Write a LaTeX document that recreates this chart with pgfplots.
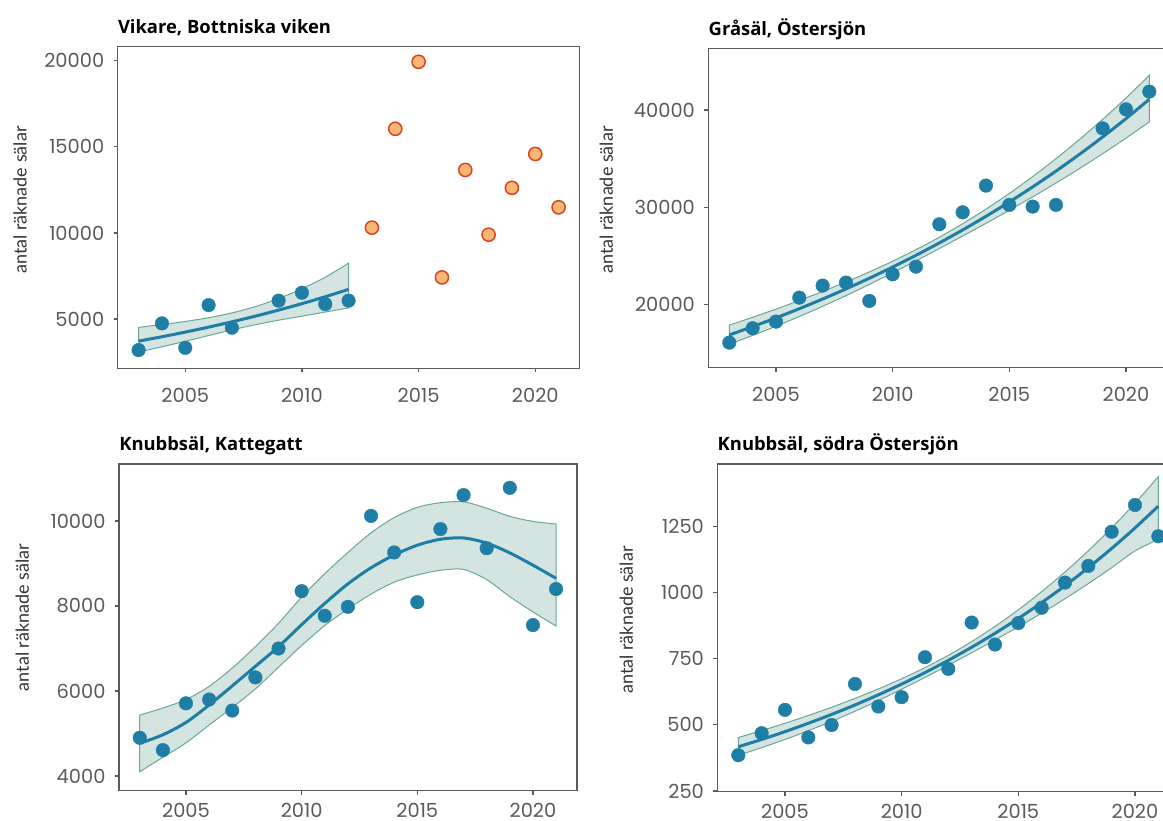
\documentclass[border=0pt]{standalone}
\usepackage{fontspec}
\setmainfont{Lato}
\newfontfamily\tickfont{Poppins}
\newfontfamily\titlefont{Open Sans}
\usepackage{pgfplots}
\pgfplotsset{compat=1.18}
\usepackage{pgfplotstable}
\usepgfplotslibrary{fillbetween}

\definecolor{dotblue}{HTML}{1F7EA6}
\definecolor{bandfill}{HTML}{D4E5E1}
\definecolor{bandedge}{HTML}{6BA698}
\definecolor{orfill}{HTML}{F8B677}
\definecolor{oredge}{HTML}{D8461C}
\definecolor{axgray}{HTML}{5A5A5A}
\definecolor{labgray}{HTML}{333333}

% Vikare, Bottniska viken
\pgfplotstableread{
year n
2003 3200
2004 4750
2005 3330
2006 5810
2007 4500
2009 6070
2010 6530
2011 5870
2012 6070
}\vikpts
\pgfplotstableread{
year n
2013 10310
2014 16050
2015 19940
2016 7420
2017 13660
2018 9900
2019 12620
2020 14590
2021 11490
}\viknew
\pgfplotstableread{
year fit lo hi
2003 3721 3090 4520
2004 3974 3390 4680
2005 4244 3710 4860
2006 4532 4045 5080
2007 4840 4372 5357
2008 5169 4670 5722
2009 5521 4935 6190
2010 5896 5170 6760
2011 6297 5410 7430
2012 6725 5650 8250
}\vikfit

% Gråsäl, Östersjön
\pgfplotstableread{
year n
2003 16060
2004 17540
2005 18220
2006 20690
2007 21930
2008 22240
2009 20350
2010 23090
2011 23880
2012 28240
2013 29470
2014 32220
2015 30230
2016 30060
2017 30230
2019 38110
2020 40070
2021 41890
}\grapts
\pgfplotstableread{
year fit lo hi
2003 16852 15898 17863
2004 17708 16798 18668
2005 18607 17746 19509
2006 19552 18745 20395
2007 20545 19795 21324
2008 21588 20895 22303
2009 22684 22049 23337
2010 23836 23245 24442
2011 25046 24482 25625
2012 26318 25744 26902
2013 27654 27032 28293
2014 29058 28337 29796
2015 30534 29679 31413
2016 32084 31054 33146
2017 33713 32482 34991
2018 35425 33962 36952
2019 37224 35501 39029
2020 39114 37104 41234
2021 41100 38774 43566
}\grafit

% Knubbsäl, Kattegatt
\pgfplotstableread{
year n
2003 4900
2004 4610
2005 5710
2006 5800
2007 5540
2008 6320
2009 7000
2010 8350
2011 7770
2012 7980
2013 10120
2014 9260
2015 8090
2016 9810
2017 10610
2018 9360
2019 10780
2020 7550
2021 8400
}\katpts
\pgfplotstableread{
year fit lo hi
2003 4769 4101 5435
2004 4970 4440 5600
2005 5260 4780 5800
2006 5670 5200 6110
2007 6120 5610 6540
2008 6580 6050 7043
2009 7043 6560 7593
2010 7560 7070 8210
2011 8060 7540 8760
2012 8520 7930 9260
2013 8900 8280 9720
2014 9200 8560 10080
2015 9430 8730 10320
2016 9570 8840 10430
2017 9600 8860 10450
2018 9480 8620 10300
2019 9250 8220 10110
2020 8960 7860 9990
2021 8651 7530 9929
}\katfit

% Knubbsäl, södra Östersjön
\pgfplotstableread{
year n
2003 385
2004 468
2005 556
2006 452
2007 499
2008 654
2009 569
2010 604
2011 755
2012 711
2013 886
2014 803
2015 884
2016 942
2017 1037
2018 1100
2019 1229
2020 1330
2021 1212
}\sodpts
\pgfplotstableread{
year fit lo hi
2003 416.7 384.5 451.6
2004 444.4 413.4 477.8
2005 473.9 444.3 505.5
2006 505.4 477.5 534.9
2007 538.9 513.0 566.1
2008 574.7 551.0 599.5
2009 612.9 591.4 635.2
2010 653.6 634.2 673.7
2011 697.0 678.8 715.7
2012 743.3 724.9 762.1
2013 792.7 772.0 813.9
2014 845.3 820.2 871.3
2015 901.5 869.8 934.2
2016 961.3 921.6 1002.7
2017 1025.2 975.9 1077.0
2018 1093.3 1033.0 1157.2
2019 1165.9 1093.0 1243.5
2020 1243.3 1156.5 1336.7
2021 1325.9 1200.0 1437.0
}\sodfit

\pgfplotsset{
  panel/.style={
    scale only axis, anchor=north west, clip=false,
    xmin=2002.1, xmax=2021.9, xtick={2005,2010,2015,2020},
    scaled y ticks=false, scaled x ticks=false,
    axis line style={axgray, line width=0.75pt},
    tick pos=left, tick align=outside, major tick length=2pt,
    tick style={axgray, line width=0.6pt},
    ticklabel style={font=\tickfont\fontsize{9.7}{10}\selectfont, text=axgray, inner sep=0pt},
    yticklabel style={anchor=east, xshift=-4.5pt},
    xticklabel style={anchor=north, yshift=-7.5pt, text depth=0pt},
    /pgf/number format/1000 sep={},
    /pgf/number format/assume math mode=true,
    every axis title/.style={at={(axis description cs:0,1)}, anchor=base west, inner sep=0pt,
      yshift=6.5pt, font=\titlefont\bfseries\fontsize{9.2}{10}\selectfont, text=black},
    ylabel={antal räknade sälar},
    every axis y label/.style={anchor=center, rotate=90, font=\fontsize{9}{10}\selectfont, text=labgray, inner sep=0pt},
  },
  fitline/.style={dotblue, line width=1.5pt, smooth},
  band/.style={fill=bandfill, draw=bandedge, line width=0.5pt},
  dots/.style={dotblue, only marks, mark=*, mark size=3.4pt, mark options={fill=dotblue, draw=dotblue, line width=0.2pt}},
}

\begin{document}
\begin{tikzpicture}

\begin{axis}[panel, at={(58.8pt,386.75pt)}, width=231pt, height=161pt,
  ymin=2130, ymax=20830, ytick={5000,10000,15000,20000},
  title={Vikare, Bottniska viken},
  ylabel style={at={(axis description cs:-0.211,0.523)}}]
  \addplot[name path=hi, draw=none, smooth] table[x=year, y=hi] {\vikfit};
  \addplot[name path=lo, draw=none, smooth] table[x=year, y=lo] {\vikfit};
  \addplot[band] fill between[of=hi and lo];
  \addplot[fitline] table[x=year, y=fit] {\vikfit};
  \addplot[dots] table[x=year, y=n] {\vikpts};
  \addplot[oredge, only marks, mark=*, mark size=3.3pt, mark options={fill=orfill, draw=oredge, line width=0.75pt}] table[x=year, y=n] {\viknew};
\end{axis}

\begin{axis}[panel, at={(354.15pt,385.85pt)}, width=231pt, height=159.7pt,
  ymin=13480, ymax=46350, ytick={20000,30000,40000},
  title={Gråsäl, Östersjön},
  ylabel style={at={(axis description cs:-0.221,0.525)}}]
  \addplot[name path=hi, draw=none, smooth] table[x=year, y=hi] {\grafit};
  \addplot[name path=lo, draw=none, smooth] table[x=year, y=lo] {\grafit};
  \addplot[band] fill between[of=hi and lo];
  \addplot[fitline] table[x=year, y=fit] {\grafit};
  \addplot[dots] table[x=year, y=n] {\grapts};
\end{axis}

\begin{axis}[panel, at={(59.45pt,178pt)}, width=229pt, height=163.35pt,
  ymin=3655, ymax=11341, ytick={4000,6000,8000,10000},
  title={Knubbsäl, Kattegatt},
  xticklabel style={yshift=3.2pt},
  ylabel style={at={(axis description cs:-0.211,0.53)}}]
  \addplot[name path=hi, draw=none, smooth] table[x=year, y=hi] {\katfit};
  \addplot[name path=lo, draw=none, smooth] table[x=year, y=lo] {\katfit};
  \addplot[band] fill between[of=hi and lo];
  \addplot[fitline] table[x=year, y=fit] {\katfit};
  \addplot[dots] table[x=year, y=n] {\katpts};
\end{axis}

\begin{axis}[panel, at={(358.65pt,178pt)}, width=231pt, height=163.85pt,
  ymin=247, ymax=1485, ytick={250,500,750,1000,1250},
  title={Knubbsäl, södra Östersjön},
  xticklabel style={yshift=3.2pt},
  ylabel style={at={(axis description cs:-0.197,0.524)}}]
  \addplot[name path=hi, draw=none, smooth] table[x=year, y=hi] {\sodfit};
  \addplot[name path=lo, draw=none, smooth] table[x=year, y=lo] {\sodfit};
  \addplot[band] fill between[of=hi and lo];
  \addplot[fitline] table[x=year, y=fit] {\sodfit};
  \addplot[dots] table[x=year, y=n] {\sodpts};
\end{axis}

\pgfresetboundingbox
\useasboundingbox (0,0) rectangle (581.5pt,410pt);
\end{tikzpicture}
\end{document}
